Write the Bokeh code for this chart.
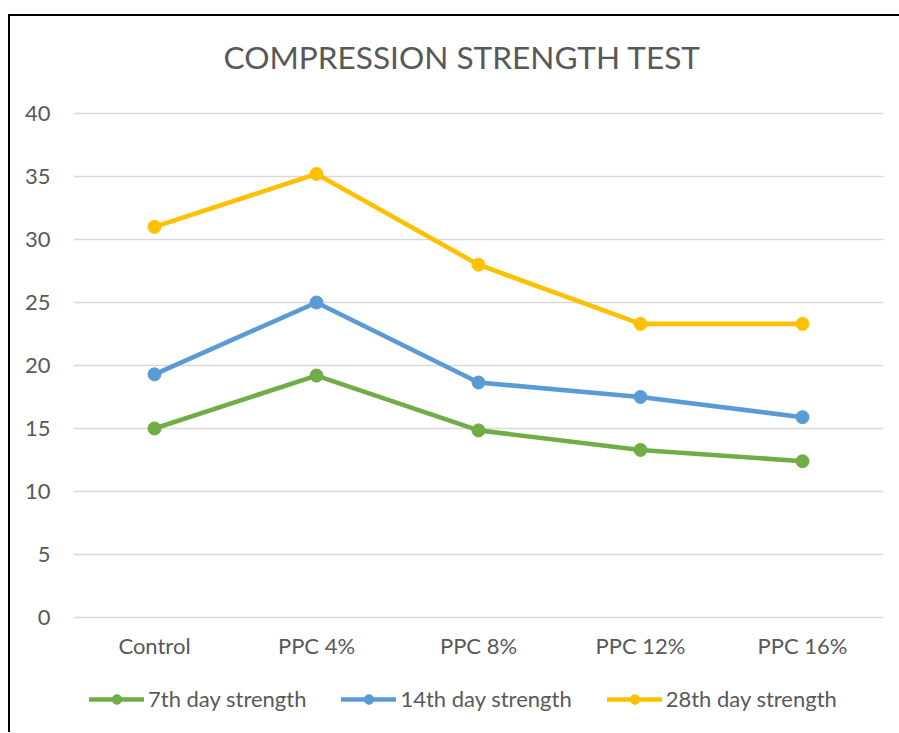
from bokeh.plotting import figure
from bokeh.models import FactorRange, Range1d, FixedTicker, Legend, LegendItem, ColumnDataSource
from bokeh.core.properties import value
from bokeh.embed import file_html
from bokeh.resources import INLINE

categories = ["Control", "PPC 4%", "PPC 8%", "PPC 12%", "PPC 16%"]
day7 = [15.0, 19.2, 14.85, 13.3, 12.4]
day14 = [19.3, 25.0, 18.65, 17.5, 15.9]
day28 = [31.0, 35.2, 28.0, 23.3, 23.3]
series_names = ["7th day strength", "14th day strength", "28th day strength"]
y_ticks = [0, 5, 10, 15, 20, 25, 30, 35, 40]

colors = ["#70AD47", "#5B9BD5", "#FFC000"]
FONT = "Lato"
TXT = "#595959"

# frame extends beyond the value axis to hold category labels and legend
Y_BOTTOM = -9.127
Y_TOP = 41.4286
LABEL_Y = -2.22

p = figure(x_range=FactorRange(*categories), y_range=Range1d(Y_BOTTOM, Y_TOP),
           frame_width=810, frame_height=637, output_backend="svg", toolbar_location=None,
           min_border_left=63, min_border_right=16, min_border_top=0, min_border_bottom=0,
           title="COMPRESSION STRENGTH TEST")
p.styles = {"border-left": "2px solid black", "border-top": "2px solid black",
            "margin-top": "14px", "margin-left": "8px"}
p.outline_line_color = None
p.background_fill_color = "white"
p.border_fill_color = "white"

p.title.align = "left"
p.title.offset = 150
p.title.text_font = FONT
p.title.text_font_size = "31.6px"
p.title.text_font_style = "normal"
p.title.text_color = TXT
p.title.standoff = 39

p.xaxis.visible = False
p.xgrid.grid_line_color = None
p.ygrid.grid_line_color = "#D9D9D9"
p.ygrid.grid_line_width = 1.3
p.yaxis.ticker = FixedTicker(ticks=y_ticks)
p.yaxis.axis_line_color = None
p.yaxis.major_tick_line_color = None
p.yaxis.minor_tick_line_color = None
p.yaxis.major_tick_out = 0
p.yaxis.major_tick_in = 0
p.yaxis.major_label_text_font = FONT
p.yaxis.major_label_text_font_size = "22px"
p.yaxis.major_label_text_color = TXT
p.yaxis.major_label_standoff = 23

lab_src = ColumnDataSource(dict(x=categories, y=[LABEL_Y] * len(categories), t=categories))
p.text("x", "y", text="t", source=lab_src, text_align="center", text_baseline="middle",
       text_font=value(FONT), text_font_size="22px", text_color=TXT)

items = []
for name, vals, c in zip(series_names, [day7, day14, day28], colors):
    src = ColumnDataSource(dict(x=categories, y=vals))
    r1 = p.line("x", "y", source=src, line_color=c, line_width=4.6, line_cap="round", line_join="round")
    r2 = p.scatter("x", "y", source=src, size=13, fill_color=c, line_color=c)
    items.append(LegendItem(label=name, renderers=[r1, r2]))

legend = Legend(items=items, orientation="horizontal", location=(16, 20),
                glyph_width=55, glyph_height=24, label_height=24, label_standoff=4,
                spacing=35, padding=0, margin=0,
                border_line_color=None, background_fill_alpha=0,
                label_text_font=FONT, label_text_font_size="22px", label_text_color=TXT)
p.add_layout(legend, "center")

open("out.html", "w").write(file_html(p, INLINE))
